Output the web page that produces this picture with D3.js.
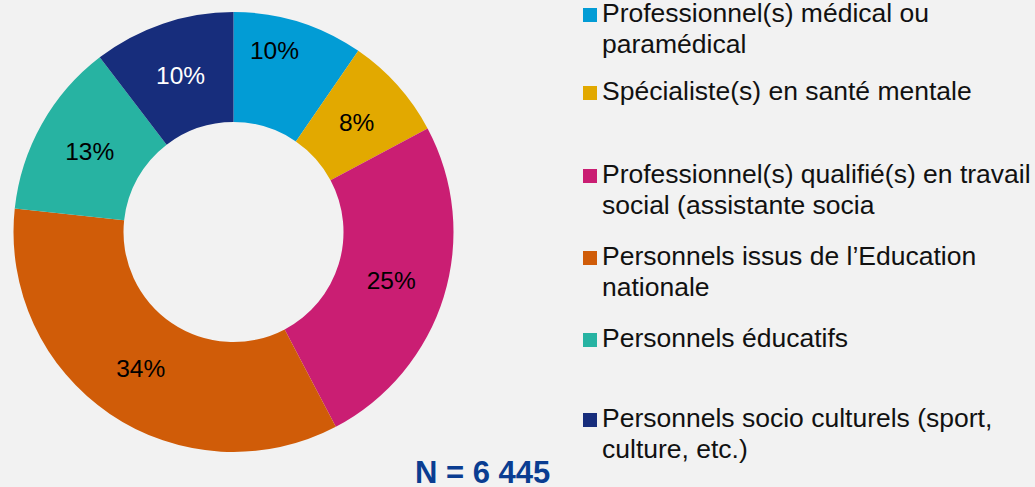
<!DOCTYPE html>
<html>
<head>
<meta charset="utf-8">
<script src="https://cdn.jsdelivr.net/npm/d3@7"></script>
<style>
  html, body { margin: 0; padding: 0; background: #f2f2f2; }
  svg { display: block; font-family: "Liberation Sans", Arial, sans-serif; }
</style>
</head>
<body>
<svg id="chart" width="1035" height="487"></svg>
<script>
// categories (legend text, already wrapped as in the source)
const categories = [
  ["Professionnel(s) médical ou", "paramédical"],
  ["Spécialiste(s) en santé mentale"],
  ["Professionnel(s) qualifié(s) en travail", "social (assistante socia"],
  ["Personnels issus de l\u2019Education", "nationale"],
  ["Personnels éducatifs"],
  ["Personnels socio culturels (sport,", "culture, etc.)"]
]
// shares in percent
const values = [9.6, 7.6, 25.1, 34.4, 12.9, 10.4]
const colors = ["#029cd5", "#e2a900", "#ca1e73", "#d05c08", "#27b3a2", "#172d7c"]
const labelColors = ["#000", "#000", "#000", "#000", "#000", "#fff"]
// the first label was dragged outward in the source chart
const labelNudge = [[-8, -24], [0, 0], [0, 0], [0, 0], [0, 0], [0, 0]]
const legendRowY = [22, 100, 183, 265, 347, 427]   // first baseline of each legend entry
const total = "N = 6 445"

const svg = d3.select("#chart")
const cx = 233.5, cy = 232
const outer = 220, inner = 110

const pie = d3.pie().sort(null).value(d => d)
const arc = d3.arc().innerRadius(inner).outerRadius(outer)
const sum = d3.sum(values)
const fmt = v => Math.round(v / sum * 100) + "%"

const g = svg.append("g").attr("transform", `translate(${cx},${cy})`)
const arcs = pie(values)

g.selectAll("path")
  .data(arcs)
  .join("path")
  .attr("d", arc)
  .attr("fill", (d, i) => colors[i])

g.selectAll("text")
  .data(arcs)
  .join("text")
  .attr("transform", (d, i) => {
    const [x, y] = arc.centroid(d)
    return `translate(${x + labelNudge[i][0]},${y + labelNudge[i][1]})`
  })
  .attr("text-anchor", "middle")
  .attr("dy", "0.35em")
  .attr("font-size", 24.5)
  .attr("fill", (d, i) => labelColors[i])
  .text(d => fmt(d.value))

// legend
const legend = svg.append("g")
const rows = legend.selectAll("g")
  .data(categories)
  .join("g")
  .attr("transform", (d, i) => `translate(583,${legendRowY[i]})`)

rows.append("rect")
  .attr("x", 0)
  .attr("y", -14)
  .attr("width", 14)
  .attr("height", 14)
  .attr("fill", (d, i) => colors[i])

rows.append("text")
  .attr("x", 19)
  .attr("font-size", 26.5)
  .attr("fill", "#111")
  .selectAll("tspan")
  .data(d => d)
  .join("tspan")
  .attr("x", 19)
  .attr("dy", (d, i) => i === 0 ? 0 : 31)
  .text(d => d)

svg.append("text")
  .attr("x", 415)
  .attr("y", 483)
  .attr("font-size", 31)
  .attr("font-weight", "bold")
  .attr("fill", "#0a3d91")
  .text(total)
</script>
</body>
</html>
